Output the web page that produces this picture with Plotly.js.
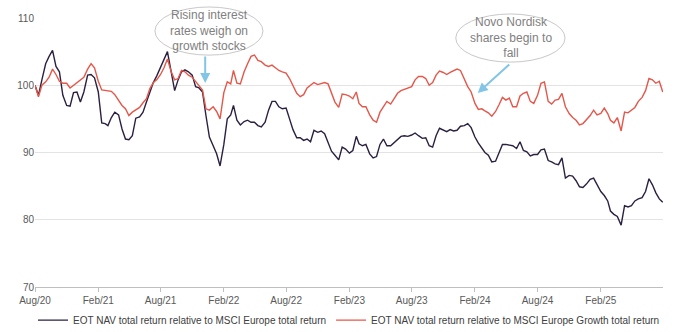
<!DOCTYPE html>
<html>
<head>
<meta charset="utf-8">
<script src="https://cdn.plot.ly/plotly-3.0.1.min.js"></script>
<style>
html,body{margin:0;padding:0;background:#fff;}
#chart{width:680px;height:332px;}
</style>
</head>
<body>
<div id="chart"></div>
<script>
// Dates (1st, 11th, 21st of each month)
const dates = [
"2020-08-01","2020-08-11","2020-08-21","2020-09-01","2020-09-11","2020-09-21","2020-10-01","2020-10-11","2020-10-21","2020-11-01","2020-11-11","2020-11-21","2020-12-01","2020-12-11","2020-12-21",
"2021-01-01","2021-01-11","2021-01-21","2021-02-01","2021-02-11","2021-02-21","2021-03-01","2021-03-11","2021-03-21","2021-04-01","2021-04-11","2021-04-21","2021-05-01","2021-05-11","2021-05-21","2021-06-01","2021-06-11","2021-06-21","2021-07-01","2021-07-11","2021-07-21","2021-08-01","2021-08-11","2021-08-21","2021-09-01","2021-09-11","2021-09-21","2021-10-01","2021-10-11","2021-10-21","2021-11-01","2021-11-11","2021-11-21","2021-12-01","2021-12-11","2021-12-21",
"2022-01-01","2022-01-11","2022-01-21","2022-02-01","2022-02-11","2022-02-21","2022-03-01","2022-03-11","2022-03-21","2022-04-01","2022-04-11","2022-04-21","2022-05-01","2022-05-11","2022-05-21","2022-06-01","2022-06-11","2022-06-21","2022-07-01","2022-07-11","2022-07-21","2022-08-01","2022-08-11","2022-08-21","2022-09-01","2022-09-11","2022-09-21","2022-10-01","2022-10-11","2022-10-21","2022-11-01","2022-11-11","2022-11-21","2022-12-01","2022-12-11","2022-12-21",
"2023-01-01","2023-01-11","2023-01-21","2023-02-01","2023-02-11","2023-02-21","2023-03-01","2023-03-11","2023-03-21","2023-04-01","2023-04-11","2023-04-21","2023-05-01","2023-05-11","2023-05-21","2023-06-01","2023-06-11","2023-06-21","2023-07-01","2023-07-11","2023-07-21","2023-08-01","2023-08-11","2023-08-21","2023-09-01","2023-09-11","2023-09-21","2023-10-01","2023-10-11","2023-10-21","2023-11-01","2023-11-11","2023-11-21","2023-12-01","2023-12-11","2023-12-21",
"2024-01-01","2024-01-11","2024-01-21","2024-02-01","2024-02-11","2024-02-21","2024-03-01","2024-03-11","2024-03-21","2024-04-01","2024-04-11","2024-04-21","2024-05-01","2024-05-11","2024-05-21","2024-06-01","2024-06-11","2024-06-21","2024-07-01","2024-07-11","2024-07-21","2024-08-01","2024-08-11","2024-08-21","2024-09-01","2024-09-11","2024-09-21","2024-10-01","2024-10-11","2024-10-21","2024-11-01","2024-11-11","2024-11-21","2024-12-01","2024-12-11","2024-12-21",
"2025-01-01","2025-01-11","2025-01-21","2025-02-01","2025-02-11","2025-02-21","2025-03-01","2025-03-11","2025-03-21","2025-04-01","2025-04-11","2025-04-21","2025-05-01","2025-05-11","2025-05-21","2025-06-01","2025-06-11","2025-06-21","2025-07-01","2025-07-11","2025-07-21","2025-07-31"
];

// EOT NAV total return relative to MSCI Europe total return
const vsEurope = [
100.0,98.5,100.8, 103.2,104.3,105.2, 102.8,102.0,98.5, 97.0,96.9,98.9, 99.0,97.5,99.0,
101.5,101.6,101.1, 99.0,94.4,94.3, 94.0,95.2,96.0, 95.6,93.5,92.0, 91.9,92.5,95.1, 95.3,96.0,97.5, 99.0,100.4,101.4, 102.7,103.8,105.0, 102.0,99.2,100.8, 102.0,102.3,102.0, 101.5,99.8,99.6, 99.0,95.5,92.3,
91.0,89.8,88.0, 91.2,95.0,95.6, 97.0,94.8,94.1, 94.6,94.8,94.5, 94.5,94.0,93.8, 94.5,96.3,97.6, 97.6,96.8,96.5, 96.6,95.0,93.4, 92.2,92.2,91.8, 92.0,91.6,93.3, 93.0,93.2,92.8, 91.5,90.2,89.6,
88.9,90.8,90.5, 89.9,90.3,92.4, 91.3,91.0,91.2, 89.8,89.2,89.4, 91.2,92.0,91.0, 91.0,91.5,92.0, 92.4,92.5,92.4, 92.6,92.9,92.5, 92.1,92.2,91.0, 90.8,92.5,93.6, 93.3,93.1,93.4, 93.2,93.3,93.9,
94.0,94.3,93.7, 92.3,91.4,90.7, 90.0,89.6,88.6, 88.7,90.0,91.2, 91.2,91.1,91.0, 90.6,91.6,90.3, 90.1,89.5,89.7, 89.7,90.4,90.5, 88.8,88.6,88.3, 88.2,89.2,86.2, 86.6,86.5,85.8, 84.9,84.8,85.3,
86.0,86.2,85.3, 84.2,83.6,82.8, 81.3,80.8,80.5, 79.2,82.1,81.9, 82.1,82.8,83.1, 83.3,84.2,86.1, 85.2,84.0,83.1,82.6
];

// EOT NAV total return relative to MSCI Europe Growth total return
const vsGrowth = [
100.0,98.3,100.0, 100.5,101.2,102.4, 101.6,100.6,100.3, 100.3,99.6,100.0, 100.4,100.8,101.2,
102.4,103.2,102.6, 100.6,99.3,99.2, 99.2,99.1,98.6, 97.7,97.0,96.5, 95.5,96.0,96.4, 96.7,97.4,98.0, 99.5,100.4,100.8, 101.6,102.6,103.9, 102.0,100.8,101.0, 102.2,102.0,101.5, 101.2,100.6,100.0, 99.3,96.5,96.3,
96.8,96.1,95.0, 98.9,100.5,100.2, 102.2,100.3,100.2, 102.0,103.2,104.3, 104.5,103.7,103.5, 103.0,102.8,103.0, 102.6,102.2,102.0, 101.8,101.0,100.0, 98.8,98.3,98.6, 99.6,100.0,100.4, 100.1,100.3,100.4, 100.2,98.7,97.5,
96.7,98.7,98.6, 98.4,98.0,99.0, 97.3,96.8,96.8, 95.6,94.8,94.5, 96.0,96.8,97.6, 97.2,98.0,98.8, 99.2,99.4,99.6, 99.8,100.8,101.3, 101.3,101.0,100.0, 100.4,101.5,102.1, 101.9,101.6,101.9, 102.1,102.4,102.2,
101.0,99.8,99.0, 97.3,96.4,96.5, 96.2,95.9,95.4, 96.1,97.1,98.2, 97.8,98.1,96.8, 96.8,98.4,98.8, 99.0,97.6,97.3, 98.5,100.3,100.5, 97.6,97.2,97.8, 97.9,98.8,96.8, 95.8,95.2,94.8, 94.1,94.3,94.8,
95.5,96.3,95.6, 95.8,96.6,95.8, 94.8,94.4,95.2, 93.2,96.0,95.9, 96.3,96.7,97.6, 98.2,99.2,101.0, 100.8,100.3,100.6,99.0
];

const seriesNames = [
"EOT NAV total return relative to MSCI Europe total return",
"EOT NAV total return relative to MSCI Europe Growth total return"
];
const yTicks = [70, 80, 90, 100, 110];
const noteRates = "Rising interest<br>rates weigh on<br>growth stocks";
const noteNovo = "Novo Nordisk<br>shares begin to<br>fall";

const FONT = '"Liberation Sans", Arial, sans-serif';

const traces = [
  {x: dates, y: vsEurope, name: seriesNames[0], type: 'scatter', mode: 'lines',
   line: {color: '#2b2040', width: 1.4}},
  {x: dates, y: vsGrowth, name: seriesNames[1], type: 'scatter', mode: 'lines',
   line: {color: '#e4574a', width: 1.4}}
];

const layout = {
  width: 680, height: 332,
  margin: {l: 35, r: 17, t: 18, b: 45, autoexpand: false},
  paper_bgcolor: '#fff', plot_bgcolor: '#fff',
  font: {family: FONT, size: 10, color: '#595959'},
  showlegend: true,
  legend: {orientation: 'h', x: 0.5, xanchor: 'center', y: -0.123, yanchor: 'middle',
           font: {family: FONT, size: 10, color: '#404040'}, itemwidth: 30, tracegroupgap: 0},
  xaxis: {
    type: 'date', range: ['2020-08-01', '2025-07-31T18:00'],
    tick0: '2020-08-01', dtick: 'M6', tickformat: '%b/%y',
    ticks: 'outside', ticklen: 4, tickcolor: '#bfbfbf',
    showgrid: false, showline: true, linecolor: '#bfbfbf', linewidth: 1,
    zeroline: false, tickfont: {family: FONT, size: 10, color: '#595959'}
  },
  yaxis: {
    range: [70, 110], tickvals: yTicks, ticktext: yTicks.map(String),
    showgrid: true, gridcolor: '#e3e3e3', gridwidth: 1,
    showline: false, zeroline: false, ticks: '',
    tickfont: {family: FONT, size: 10, color: '#595959'}
  },
  shapes: [
    {type: 'circle', xref: 'paper', yref: 'paper', x0: 0.191, x1: 0.363, y0: 0.862, y1: 1.041,
     line: {color: '#c8c8c8', width: 1}, fillcolor: 'rgba(255,255,255,1)', layer: 'above'},
    {type: 'circle', xref: 'paper', yref: 'paper', x0: 0.670, x1: 0.844, y0: 0.836, y1: 1.015,
     line: {color: '#c8c8c8', width: 1}, fillcolor: 'rgba(255,255,255,1)', layer: 'above'}
  ],
  annotations: [
    {xref: 'paper', yref: 'paper', x: 0.277, y: 0.952, xanchor: 'center', yanchor: 'middle',
     text: noteRates, showarrow: false,
     font: {family: FONT, size: 12, color: '#808080'}, align: 'center'},
    {xref: 'paper', yref: 'paper', x: 0.758, y: 0.926, xanchor: 'center', yanchor: 'middle',
     text: noteNovo, showarrow: false,
     font: {family: FONT, size: 12, color: '#808080'}, align: 'center'},
    {xref: 'paper', yref: 'paper', x: 0.271, y: 0.758, text: '', showarrow: true,
     ax: 0, ay: -28, arrowcolor: '#82c5e6', arrowwidth: 2, arrowhead: 2, arrowsize: 1},
    {xref: 'paper', yref: 'paper', x: 0.705, y: 0.721, text: '', showarrow: true,
     ax: 33, ay: -30, arrowcolor: '#82c5e6', arrowwidth: 2, arrowhead: 2, arrowsize: 1}
  ]
};

Plotly.newPlot('chart', traces, layout, {displayModeBar: false, staticPlot: true});
</script>
</body>
</html>
